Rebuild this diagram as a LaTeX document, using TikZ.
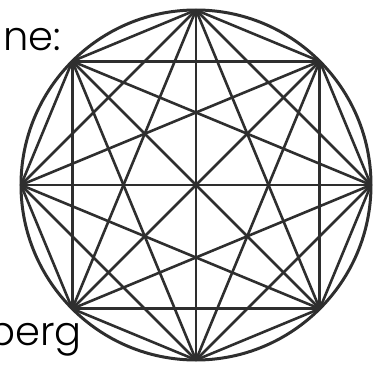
\documentclass[tikz,border=0pt]{standalone}
\usepackage{fontspec}
\setmainfont{Poppins}[UprightFont=* Light]
\definecolor{octInk}{HTML}{2E2E2E}
\tikzset{
  oct rim/.style={draw=octInk, line width=3pt},
  oct chord/.style={draw=octInk, line width=2.6pt},
  oct label/.style={font=\fontsize{40}{44}\selectfont, text=black, inner sep=0pt},
}
\begin{document}
\begin{tikzpicture}[x=1pt,y=-1pt]
  \useasboundingbox (0,0) rectangle (381,367);
  \clip (0,0) rectangle (381,367);
  % the eight corners on the rim
  \foreach \k in {0,...,7}
    \coordinate (v\k) at ([shift={(196,185)}]{45*\k}:175);
  \draw[oct rim] (196,185) circle[radius=175];
  \foreach \i in {0,...,6} {
    \pgfmathtruncatemacro{\j}{\i+1}
    \foreach \k in {\j,...,7}
      \draw[oct chord] (v\i) -- (v\k);
  }
  \node[oct label, anchor=base west] (top) at (3,50) {ne:};
  \node[oct label, anchor=base east] (bottom) at (82,345) {berg};
\end{tikzpicture}
\end{document}
